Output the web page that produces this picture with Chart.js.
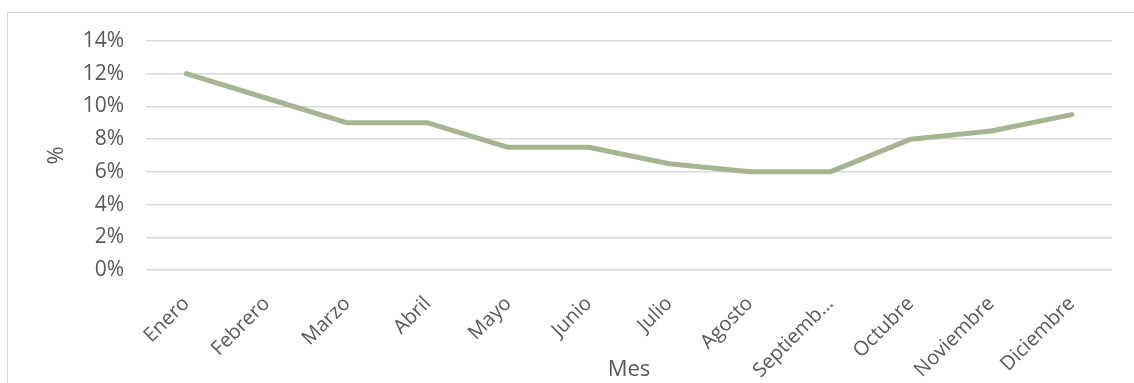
<!DOCTYPE html>
<html>
<head>
<meta charset="utf-8">
<script src="https://cdn.jsdelivr.net/npm/chart.js@4"></script>
<style>
  body { margin: 0; background: #fff; }
  #wrap { position: relative; width: 1134px; height: 383px; }
</style>
</head>
<body>
<div id="wrap"><canvas id="chart"></canvas></div>
<script>
  // data
  const meses = ['Enero', 'Febrero', 'Marzo', 'Abril', 'Mayo', 'Junio', 'Julio',
    'Agosto', 'Septiembre', 'Octubre', 'Noviembre', 'Diciembre'];
  const porcentajes = [12, 10.5, 9, 9, 7.5, 7.5, 6.5, 6, 6, 8, 8.5, 9.5];
  const yTicks = [0, 2, 4, 6, 8, 10, 12, 14];

  const gris = '#595959';

  // light frame round the chart (left and top edges are visible)
  const marco = {
    id: 'marco',
    beforeDraw(chart) {
      const c = chart.ctx;
      c.save();
      c.strokeStyle = '#d9d9d9';
      c.lineWidth = 1;
      c.strokeRect(7.5, 12.5, 1200, 400);
      c.restore();
    }
  };

  const ctx = document.getElementById('chart').getContext('2d');
  new Chart(ctx, {
    type: 'line',
    data: {
      labels: meses,
      datasets: [{
        label: '%',
        data: porcentajes,
        borderColor: '#a5b592',
        borderWidth: 5,
        borderCapStyle: 'round',
        borderJoinStyle: 'round',
        pointRadius: 0,
        tension: 0,
        fill: false
      }]
    },
    options: {
      responsive: true,
      maintainAspectRatio: false,
      animation: false,
      layout: { padding: { top: 41, right: 22, left: 0, bottom: 0 } },
      plugins: {
        legend: { display: false },
        tooltip: { enabled: false }
      },
      scales: {
        x: {
          offset: true,
          grid: { display: false, drawTicks: false },
          border: { display: false },
          ticks: {
            color: gris,
            font: { family: 'Open Sans', size: 20 },
            minRotation: 45,
            maxRotation: 45,
            padding: 22,
            autoSkip: false,
            callback: function (v) {
              const t = meses[v];
              return t.length > 9 ? t.slice(0, 8) + '…' : t;
            }
          },
          title: {
            display: true,
            text: 'Mes',
            color: gris,
            font: { family: 'Open Sans', size: 22 },
            padding: { top: 0, bottom: 0 }
          },
          afterFit: function (s) { s.height = 113; }
        },
        y: {
          min: 0,
          max: 14,
          afterBuildTicks: function (s) { s.ticks = yTicks.map(v => ({ value: v })); },
          grid: { color: '#d9d9d9', lineWidth: 1.5, drawTicks: false },
          border: { display: false },
          ticks: {
            color: gris,
            font: { family: 'Open Sans', size: 21 },
            padding: 22,
            callback: v => v + '%'
          },
          title: {
            display: true,
            text: '%',
            color: gris,
            font: { family: 'Open Sans', size: 22 },
            padding: { top: 44, bottom: 0 }
          },
          afterFit: function (s) { s.width = 146; }
        }
      }
    },
    plugins: [marco]
  });
</script>
</body>
</html>
